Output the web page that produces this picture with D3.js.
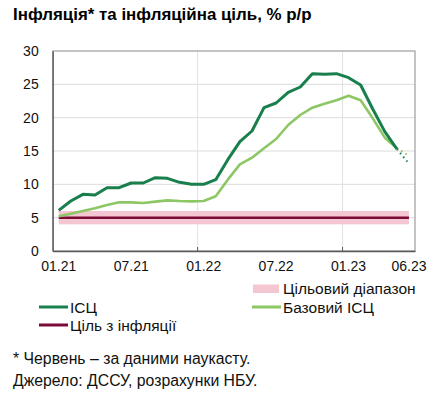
<!DOCTYPE html>
<html>
<head>
<meta charset="utf-8">
<script src="https://cdn.jsdelivr.net/npm/d3@7"></script>
<style>
  body { margin: 0; background: #ffffff; }
  svg { display: block; font-family: "Liberation Sans", Arial, sans-serif; }
</style>
</head>
<body>
<svg id="svg" width="447" height="394"></svg>
<script>
//Data
const months = ["01.21","02.21","03.21","04.21","05.21","06.21","07.21","08.21","09.21","10.21","11.21","12.21",
                "01.22","02.22","03.22","04.22","05.22","06.22","07.22","08.22","09.22","10.22","11.22","12.22",
                "01.23","02.23","03.23","04.23","05.23","06.23"];
const cpi = [6.1, 7.5, 8.5, 8.4, 9.5, 9.5, 10.2, 10.2, 11.0, 10.9, 10.3, 10.0,
             10.0, 10.7, 13.7, 16.4, 18.0, 21.5, 22.2, 23.8, 24.6, 26.6, 26.5, 26.6,
             26.0, 24.9, 21.3, 17.9, 15.3, 13.1];
const coreCpi = [5.2, 5.6, 6.0, 6.4, 6.9, 7.3, 7.3, 7.2, 7.4, 7.6, 7.5, 7.45,
                 7.5, 8.2, 10.7, 13.0, 14.0, 15.4, 16.8, 18.9, 20.4, 21.5, 22.1, 22.6,
                 23.3, 22.6, 19.9, 17.0, 15.4, 14.3];
const target = 5;
const targetBand = [4, 6];
const xTickLabels = ["01.21","07.21","01.22","07.22","01.23","06.23"];
const xGridMonths = ["01.22","01.23"];
const yTicks = [0, 5, 10, 15, 20, 25, 30];
const nowcastFrom = "05.23"; //last month before the dotted part

//Colours
const DARK_GREEN = "#187f4d";
const LIGHT_GREEN = "#8dc765";
const MAROON = "#7b0b36";
const PINK = "#f3c6d1";

//Plot area
const LEFT = 52.7, RIGHT = 415, TOP = 51, BOTTOM = 251;

const svg = d3.select("svg");

const x = d3.scaleBand().domain(months).range([LEFT, RIGHT]).padding(0);
const cx = (m) => x(m) + x.bandwidth() / 2;
const y = d3.scaleLinear().domain([0, 30]).range([BOTTOM, TOP]);

//Title
svg.append("text")
  .attr("x", 13)
  .attr("y", 19.5)
  .attr("font-size", 16.9)
  .attr("font-weight", "bold")
  .attr("fill", "#000")
  .text("Інфляція* та інфляційна ціль, % р/р");

//Gridlines
svg.append("g")
  .selectAll("line")
  .data(yTicks.filter(d => d > 0 && d < 30))
  .enter().append("line")
  .attr("x1", LEFT).attr("x2", RIGHT)
  .attr("y1", d => y(d)).attr("y2", d => y(d))
  .attr("stroke", "#dcdcdc")
  .attr("stroke-width", 1);

svg.append("g")
  .selectAll("line")
  .data(xGridMonths)
  .enter().append("line")
  .attr("x1", d => x(d)).attr("x2", d => x(d))
  .attr("y1", TOP).attr("y2", BOTTOM)
  .attr("stroke", "#e2e2e2")
  .attr("stroke-width", 1);

//Target band
svg.append("rect")
  .attr("x", cx(months[0]))
  .attr("y", y(targetBand[1]))
  .attr("width", cx(months[months.length - 1]) - cx(months[0]))
  .attr("height", y(targetBand[0]) - y(targetBand[1]))
  .attr("fill", PINK);

//Target line
svg.append("line")
  .attr("x1", cx(months[0]))
  .attr("x2", cx(months[months.length - 1]))
  .attr("y1", y(target)).attr("y2", y(target))
  .attr("stroke", MAROON)
  .attr("stroke-width", 2.5);

//Lines
const line = d3.line()
  .x(d => cx(d.m))
  .y(d => y(d.v));

function drawSeries(values, color, width) {
  const pts = months.map((m, i) => ({m: m, v: values[i]}));
  const cut = months.indexOf(nowcastFrom);
  svg.append("path")
    .attr("d", line(pts.slice(0, cut + 1)))
    .attr("fill", "none")
    .attr("stroke", color)
    .attr("stroke-width", width)
    .attr("stroke-linejoin", "round");
  svg.append("path")
    .attr("d", line(pts.slice(cut)))
    .attr("fill", "none")
    .attr("stroke", color)
    .attr("stroke-width", 2)
    .attr("stroke-dasharray", "1.5,3.5");
}
drawSeries(coreCpi, LIGHT_GREEN, 2.6);
drawSeries(cpi, DARK_GREEN, 3);

//Plot border
svg.append("rect")
  .attr("x", LEFT).attr("y", TOP)
  .attr("width", RIGHT - LEFT).attr("height", BOTTOM - TOP)
  .attr("fill", "none")
  .attr("stroke", "#8a8a8a")
  .attr("stroke-width", 1);

//Y axis
const yAxis = svg.append("g")
  .attr("transform", "translate(" + LEFT + ",0)")
  .call(d3.axisLeft(y).tickValues(yTicks).tickSize(0).tickPadding(14));
yAxis.select(".domain").attr("stroke", "#5a5a5a").attr("stroke-width", 1.3);
yAxis.selectAll("text").attr("font-size", 14).attr("fill", "#111").attr("font-family", "Liberation Sans, Arial, sans-serif");

//X axis
const xAxis = svg.append("g")
  .attr("transform", "translate(0," + BOTTOM + ")")
  .call(d3.axisBottom(x).tickValues(xTickLabels).tickSize(0).tickPadding(10));
xAxis.select(".domain").attr("stroke", "#5a5a5a").attr("stroke-width", 1.3);
xAxis.selectAll("text").attr("font-size", 14).attr("fill", "#111").attr("font-family", "Liberation Sans, Arial, sans-serif");

//Year ticks (inside)
svg.append("g")
  .selectAll("line")
  .data(xGridMonths)
  .enter().append("line")
  .attr("x1", d => x(d)).attr("x2", d => x(d))
  .attr("y1", BOTTOM - 4).attr("y2", BOTTOM)
  .attr("stroke", "#5a5a5a")
  .attr("stroke-width", 1);

//Legend
const legend = svg.append("g").attr("font-size", 15.5).attr("fill", "#111");

legend.append("rect")
  .attr("x", 253).attr("y", 284.5)
  .attr("width", 26).attr("height", 8.5)
  .attr("fill", PINK);
legend.append("text").attr("x", 283).attr("y", 294).text("Цільовий діапазон");

const legendLines = [
  {label: "ІСЦ", color: DARK_GREEN, lx: 39, ly: 307},
  {label: "Базовий ІСЦ", color: LIGHT_GREEN, lx: 252, ly: 307},
  {label: "Ціль з інфляції", color: MAROON, lx: 39, ly: 325}
];
legend.selectAll("line.item")
  .data(legendLines)
  .enter().append("line")
  .attr("class", "item")
  .attr("x1", d => d.lx).attr("x2", d => d.lx + 29)
  .attr("y1", d => d.ly).attr("y2", d => d.ly)
  .attr("stroke", d => d.color)
  .attr("stroke-width", 3);
legend.selectAll("text.item")
  .data(legendLines)
  .enter().append("text")
  .attr("class", "item")
  .attr("x", d => d.lx + 31)
  .attr("y", d => d.ly + 5.5)
  .text(d => d.label);

//Footnotes
svg.append("text")
  .attr("x", 13).attr("y", 364)
  .attr("font-size", 15.8).attr("fill", "#111")
  .text("* Червень – за даними наукасту.");
svg.append("text")
  .attr("x", 13).attr("y", 386)
  .attr("font-size", 15.8).attr("fill", "#111")
  .text("Джерело: ДССУ, розрахунки НБУ.");
</script>
</body>
</html>
